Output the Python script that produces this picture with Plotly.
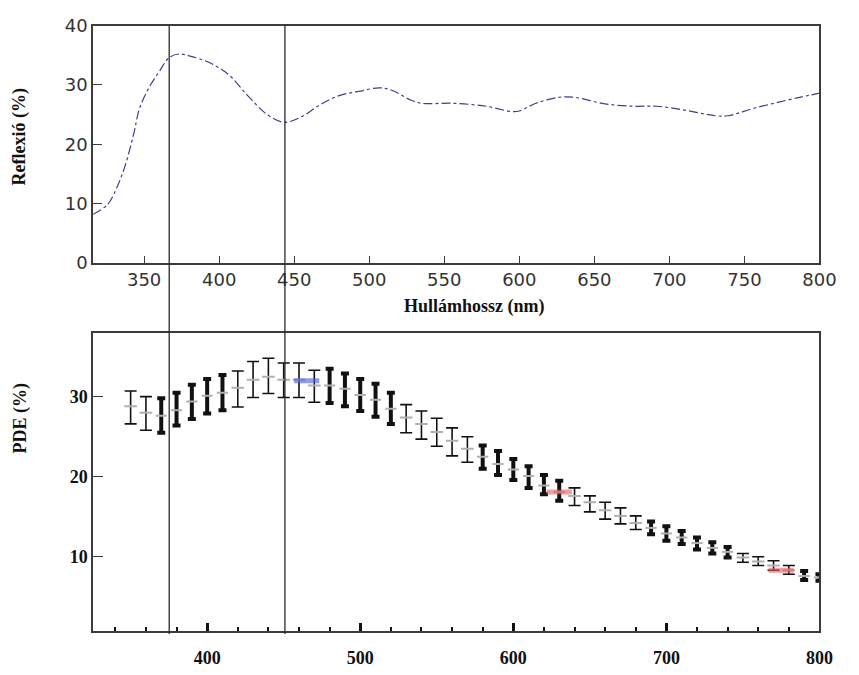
import plotly.graph_objects as go

# ---------------- data ----------------
# Top panel: reflection spectrum
refl_nm = [316, 325.5, 330, 336.6, 343, 347, 353.6, 360, 366.7, 373, 380, 393, 406, 419, 432, 443,
           454, 467, 480, 493, 506.6, 515, 528, 534.6, 556, 578, 595, 600, 611, 626, 637, 657,
           676, 691.5, 709, 730.7, 739, 757, 785, 800]
refl_pct = [8.2, 9.8, 11.7, 15.8, 21.7, 26.1, 29.7, 32.2, 34.6, 35.2, 34.9, 33.8, 31.8, 28.2, 25.0, 23.7,
            24.5, 26.6, 28.2, 28.9, 29.5, 29.1, 27.4, 26.9, 26.9, 26.4, 25.5, 25.6, 26.9, 27.9, 27.9, 26.8,
            26.4, 26.4, 25.8, 24.8, 24.8, 26.1, 27.8, 28.6]

# Bottom panel: PDE with error bars
pde_nm = list(range(350, 801, 10))
pde_pct = [28.8, 28.0, 27.6, 28.3, 29.4, 30.1, 30.5, 31.1, 32.1, 32.5,
           32.1, 32.1, 31.4, 31.4, 31.0, 30.2, 29.6, 28.5, 27.4, 26.6,
           25.6, 24.5, 23.5, 22.5, 21.6, 20.9, 20.1, 18.9, 18.1, 17.6,
           16.8, 15.8, 15.1, 14.2, 13.6, 12.9, 12.4, 11.7, 11.1, 10.6,
           9.9, 9.4, 8.9, 8.3, 7.6, 7.4]
pde_top = [30.7, 30.0, 29.8, 30.5, 31.5, 32.2, 32.7, 33.2, 34.4, 34.8,
           34.2, 34.2, 33.3, 33.5, 32.9, 32.2, 31.6, 30.5, 29.0, 28.2,
           27.3, 26.1, 25.0, 23.9, 23.2, 22.2, 21.3, 20.2, 19.5, 18.6,
           17.6, 16.8, 16.1, 15.1, 14.4, 13.8, 13.2, 12.4, 11.8, 11.2,
           10.4, 10.0, 9.5, 8.9, 8.2, 7.8]
pde_bottom = [26.6, 25.8, 25.5, 26.4, 27.2, 27.9, 28.3, 28.7, 29.9, 30.4,
              29.9, 29.9, 29.3, 29.2, 28.8, 28.2, 27.5, 26.6, 25.5, 24.7,
              23.8, 22.6, 21.8, 21.0, 20.2, 19.6, 18.6, 17.8, 17.0, 16.4,
              15.6, 14.7, 14.1, 13.4, 12.8, 12.0, 11.6, 10.9, 10.4, 9.9,
              9.3, 8.9, 8.3, 7.8, 7.1, 7.0]
# bar style group: 0 = thin with caps, 1 = thick
pde_style = [0, 0, 1, 1, 1, 1, 1, 0, 0, 0,
             0, 0, 0, 1, 1, 1, 1, 1, 0, 0,
             0, 0, 0, 1, 1, 1, 1, 1, 1, 0,
             0, 0, 0, 0, 1, 1, 1, 1, 1, 1,
             0, 0, 0, 0, 1, 1]

# Highlighted points
hl_nm = [465, 630, 775]
hl_pde = [32.0, 18.1, 8.3]
hl_color = ["rgba(70,90,220,0.6)", "rgba(230,90,90,0.6)", "rgba(230,90,90,0.6)"]

# Vertical marker lines (top-axis wavelengths)
marker_lines_nm = [366.7, 443.8]

# Tick labels
top_xticks = [350, 400, 450, 500, 550, 600, 650, 700, 750, 800]
top_yticks = [0, 10, 20, 30, 40]
bot_xticks = [400, 500, 600, 700, 800]
bot_yticks = [10, 20, 30]

# ---------------- figure ----------------
W, H = 859, 675
def px_x(p): return p / W
def px_y(p): return 1 - p / H

fig = go.Figure()

fig.add_trace(go.Scatter(
    x=refl_nm, y=refl_pct, mode="lines", line_shape="spline",
    line=dict(color="#3b3f8f", width=1.2, dash="dashdot"),
    xaxis="x", yaxis="y", showlegend=False, hoverinfo="skip"))

for grp, (w, thick, size) in enumerate([(6, 1.6, 9), (4, 4.0, 8)]):
    xs, ys, ep, em = [], [], [], []
    for n, c, t, b, s in zip(pde_nm, pde_pct, pde_top, pde_bottom, pde_style):
        if s == grp:
            xs.append(n); ys.append(c); ep.append(t - c); em.append(c - b)
    fig.add_trace(go.Scatter(
        x=xs, y=ys, mode="markers",
        marker=dict(symbol="line-ew", size=size, line=dict(color="#b0b0b0", width=2)),
        error_y=dict(type="data", symmetric=False, array=ep, arrayminus=em,
                     color="#111111", thickness=thick, width=w),
        xaxis="x2", yaxis="y2", showlegend=False, hoverinfo="skip"))

fig.add_trace(go.Scatter(
    x=hl_nm, y=hl_pde, mode="markers",
    marker=dict(symbol="line-ew", size=18, line=dict(color=hl_color, width=5)),
    xaxis="x2", yaxis="y2", showlegend=False, hoverinfo="skip"))

axis_line = dict(showline=True, linecolor="#3c3c3c", linewidth=1.5, mirror=True,
                 showgrid=False, zeroline=False)

fig.update_layout(
    width=W, height=H, margin=dict(l=0, r=0, t=0, b=0),
    paper_bgcolor="white", plot_bgcolor="white",
    xaxis=dict(domain=[px_x(95), px_x(836)], range=[316, 800], anchor="y",
               tickvals=top_xticks, ticks="inside", ticklen=7, tickcolor="#3c3c3c",
               tickfont=dict(family="DejaVu Sans", size=18, color="#333"), **axis_line),
    yaxis=dict(domain=[px_y(260), px_y(15)], range=[0, 40], anchor="x",
               tickvals=top_yticks, ticks="inside", ticklen=9, tickcolor="#3c3c3c",
               tickfont=dict(family="DejaVu Sans", size=18, color="#333"), **axis_line),
    xaxis2=dict(domain=[px_x(95), px_x(836)], range=[325.5, 800], anchor="y2",
                tickvals=bot_xticks, ticks="inside", ticklen=8, tickwidth=3, tickcolor="#111",
                ticklabelstandoff=10,
                minor=dict(dtick=20, tick0=320, ticks="inside", ticklen=4, tickwidth=2, tickcolor="#111"),
                tickfont=dict(family="Liberation Serif", size=18, color="#111", weight="bold"),
                **axis_line),
    yaxis2=dict(domain=[px_y(640), px_y(332)], range=[0.7, 38], anchor="x2",
                tickvals=bot_yticks, ticks="inside", ticklen=10, tickcolor="#3c3c3c",
                tickfont=dict(family="Liberation Serif", size=18, color="#111", weight="bold"),
                **axis_line),
)

for nm in marker_lines_nm:
    fig.add_shape(type="line", xref="x", yref="paper", x0=nm, x1=nm,
                  y0=px_y(643), y1=px_y(15), line=dict(color="#2a2a2a", width=1.3))

title_font = dict(family="Liberation Serif", size=18, color="#111", weight="bold")
fig.add_annotation(text="Reflexió (%)", xref="paper", yref="paper", x=px_x(20), y=px_y(130),
                   xanchor="center", yanchor="middle",
                   textangle=-90, showarrow=False, font=title_font)
fig.add_annotation(text="PDE (%)", xref="paper", yref="paper", x=px_x(21), y=px_y(420),
                   xanchor="center", yanchor="middle",
                   textangle=-90, showarrow=False, font=title_font)
fig.add_annotation(text="Hullámhossz (nm)", xref="paper", yref="paper", x=px_x(484), y=px_y(305),
                   xanchor="center", yanchor="middle",
                   showarrow=False, font=title_font)

fig.write_html("out.html")
